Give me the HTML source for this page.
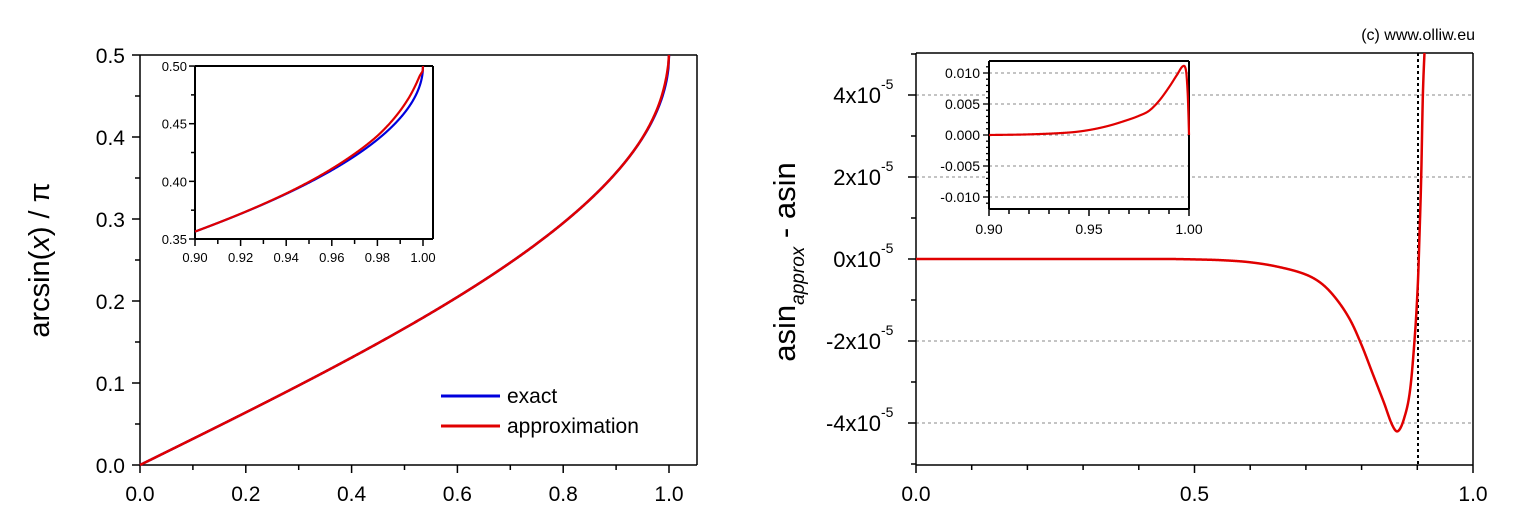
<!DOCTYPE html>
<html><head><meta charset="utf-8"><style>
html,body{margin:0;padding:0;background:#fff;}
svg{display:block;font-family:"Liberation Sans",Arial,sans-serif;}
</style></head><body>
<svg id="s" width="1515" height="527" viewBox="0 0 1515 527" xmlns="http://www.w3.org/2000/svg">
<defs><clipPath id="cr"><rect x="916" y="53" width="557" height="412"/></clipPath></defs>
<g id="g"></g>
</svg>
<script>
const NS="http://www.w3.org/2000/svg";
const g=document.getElementById('g');
function el(t,a,txt){const e=document.createElementNS(NS,t);for(const k in a)e.setAttribute(k,a[k]);if(txt!==undefined)e.textContent=txt;g.appendChild(e);return e;}
function line(x1,y1,x2,y2,st,w,dash){const a={x1,y1,x2,y2,stroke:st||'#000','stroke-width':w||1.5};if(dash)a['stroke-dasharray']=dash;return el('line',a);}
function text(x,y,s,size,anchor){return el('text',{x,y,'font-size':size,'text-anchor':anchor||'middle',fill:'#000'},s);}
function path(pts,col,w,clip){const a={d:'M'+pts.map(p=>p[0].toFixed(2)+','+p[1].toFixed(2)).join('L'),fill:'none',stroke:col,'stroke-width':w||2.5,'stroke-linejoin':'round'};if(clip)a['clip-path']=clip;el('path',a);}
function interp(P,x){
 if(x<=P[0][0])return P[0][1]; if(x>=P[P.length-1][0])return P[P.length-1][1];
 let i=0;while(P[i+1][0]<x)i++;
 const p0=P[Math.max(i-1,0)],p1=P[i],p2=P[i+1],p3=P[Math.min(i+2,P.length-1)];
 const t=(x-p1[0])/(p2[0]-p1[0]);
 const m1=(p2[1]-p0[1])/(p2[0]-p0[0])*(p2[0]-p1[0]);
 const m2=(p3[1]-p1[1])/(p3[0]-p1[0])*(p2[0]-p1[0]);
 const t2=t*t,t3=t2*t;
 return (2*t3-3*t2+1)*p1[1]+(t3-2*t2+t)*m1+(-2*t3+3*t2)*p2[1]+(t3-t2)*m2;
}
const E=[[0.90,0],[0.92,0.0001],[0.94,0.0004],[0.95,0.0008],[0.96,0.0015],[0.97,0.0025],[0.975,0.0031],[0.98,0.0039],[0.985,0.0055],[0.99,0.0077],[0.994,0.0097],[0.997,0.0111],[0.9985,0.0104],[0.9993,0.007],[0.99975,0.003],[1.0,0]];
const M=[[0,0],[0.45,0],[0.5,-0.01],[0.55,-0.03],[0.6,-0.08],[0.65,-0.19],[0.70,-0.38],[0.73,-0.62],[0.756,-1.0],[0.78,-1.5],[0.80,-2.1],[0.82,-2.8],[0.84,-3.5],[0.855,-4.05],[0.865,-4.2],[0.876,-3.9],[0.887,-3.2],[0.896,-1.8],[0.901,-0.6],[0.904,0.6],[0.907,2.0],[0.910,4.0],[0.914,5.4],[0.918,7]];

// ===== LEFT MAIN =====
const LX=x=>140+529*x, LY=y=>465-820*y;
line(140,55,697,55);line(697,55,697,465);line(140,55,140,465);line(140,465,697,465);
for(let i=0;i<=10;i++){const v=i*0.05,y=LY(v);const maj=i%2==0;line(140,y,maj?132:135,y);if(maj)text(125,y+8,v.toFixed(1),21,'end');}
for(let i=0;i<=10;i++){const x=LX(i*0.1);const maj=i%2==0;line(x,465,x,maj?473:470);if(maj)text(x,501,(i*0.1).toFixed(1),21);}
let pb=[],pr=[];
for(let i=0;i<=800;i++){const x=i/800;pb.push([LX(x),LY(Math.asin(x)/Math.PI)]);}
for(let i=0;i<=800;i++){const x=i/800;let e=x>=0.9?interp(E,x):0;pr.push([LX(x),LY(Math.asin(x)/Math.PI+1.5*e/Math.PI)]);}
path(pb,'#0000dd',2.5);path(pr,'#e00000',2.5);
line(441,396,500,396,'#0000dd',3);text(507,403,'exact',21,'start');
line(441,426,500,426,'#e00000',3);text(507,433,'approximation',21,'start');
const yl=el('text',{transform:'translate(49,260) rotate(-90)','font-size':29,'text-anchor':'middle'});
yl.innerHTML='arcsin(<tspan font-style="italic">x</tspan>) / π';

// ===== LEFT INSET =====
el('rect',{x:195,y:66,width:238,height:173,fill:'#fff',stroke:'none'});
const IX=x=>195+2280*(x-0.9), IY=y=>239-1153*(y-0.35);
line(195,66,433,66,'#000',2);line(433,66,433,239,'#000',2);line(195,66,195,239,'#000',2);line(195,239,433,239,'#000',2);
for(let i=0;i<=6;i++){const v=0.35+i*0.025,y=IY(v);const maj=i%2==0;line(195,y,maj?189:191,y,'#000',1.5);if(maj)text(187,y+5,v.toFixed(2),13,'end');}
for(let i=0;i<=10;i++){const x=IX(0.9+i*0.01);const maj=i%2==0;line(x,239,x,maj?246:244,'#000',1.5);if(maj)text(x,262,(0.9+i*0.01).toFixed(2),13);}
pb=[];pr=[];
for(let i=0;i<=1000;i++){const x=0.9+0.1*i/1000;pb.push([IX(x),IY(Math.asin(x)/Math.PI)]);pr.push([IX(x),IY(Math.asin(x)/Math.PI+2.6*interp(E,x)/Math.PI)]);}
path(pb,'#0000dd',2.2);path(pr,'#e00000',2.2);

// ===== RIGHT MAIN =====
const RX=x=>916+557*x, RY=v=>259-41*v;
[4,2,-2,-4].forEach(v=>line(916,RY(v),1473,RY(v),'#888',1,'3,3'));
line(916,53,1473,53);line(1473,53,1473,465);line(916,53,916,465);line(916,465,1473,465);
for(let i=-5;i<=5;i++){const y=RY(i);const maj=i%2==0;line(916,y,maj?908:911,y);
 if(maj){const t=el('text',{x:881,y:y+8,'font-size':22,'text-anchor':'end'});t.textContent=i+'x10';
  const s=el('text',{x:881,y:y-6,'font-size':14,'text-anchor':'start'});s.textContent='-5';}}
for(let i=0;i<=10;i++){const x=RX(i*0.1);const maj=i%5==0;line(x,465,x,maj?473:470);if(maj)text(x,501,(i*0.1).toFixed(1),21);}
line(1418,53,1418,465,'#000',2,'3,3');
let pm=[];for(let i=0;i<=2000;i++){const x=0.918*i/2000;pm.push([RX(x),RY(interp(M,x))]);}
path(pm,'#e00000',2.5,'url(#cr)');
const rl=el('text',{transform:'translate(795,262) rotate(-90)','font-size':31,'text-anchor':'middle'});
rl.innerHTML='asin<tspan font-size="19" font-style="italic" dy="9">approx</tspan><tspan dy="-9"> - asin</tspan>';
text(1475,40,'(c) www.olliw.eu',16,'end');

// ===== RIGHT INSET =====
el('rect',{x:989,y:61,width:200,height:148,fill:'#fff'});
const JX=x=>989+2000*(x-0.9), JY=v=>135-6.2*v*1000;
[0.01,0.005,0,-0.005,-0.01].forEach(v=>line(989,JY(v),1189,JY(v),'#888',1,'3,3'));
line(989,61,1189,61,'#000',2);line(1189,61,1189,209,'#000',2);line(989,61,989,209,'#000',2);line(989,209,1189,209,'#000',2);
for(let i=-12;i<=12;i++){const v=i*0.001,y=JY(v);if(y<61||y>209)continue;const maj=i%5==0;line(989,y,maj?983:986,y,'#000',1.3);if(maj)text(980,y+5,(v<0?'-':'')+Math.abs(v).toFixed(3),14,'end');}
for(let i=0;i<=10;i++){const x=JX(0.9+i*0.01);const maj=i%5==0;line(x,209,x,maj?216:214,'#000',1.5);if(maj)text(x,234,(0.9+i*0.01).toFixed(2),14);}
let pi=[];for(let i=0;i<=1500;i++){const x=0.9+0.1*i/1500;pi.push([JX(x),JY(interp(E,x))]);}
path(pi,'#e00000',2.2);
</script>
</body></html>
